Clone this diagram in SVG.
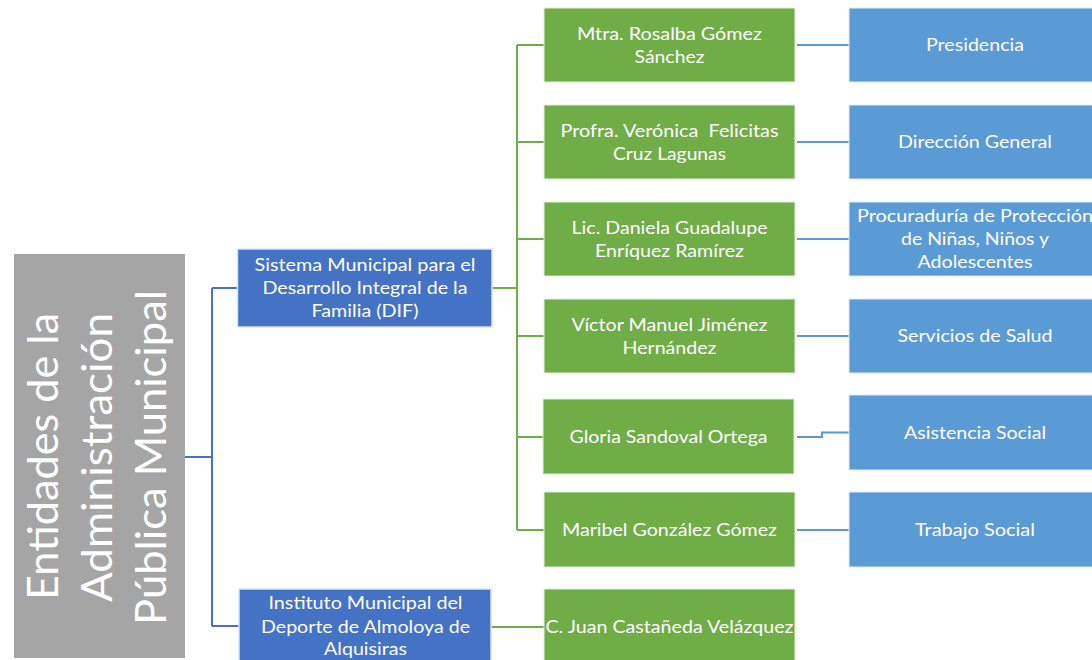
<svg xmlns="http://www.w3.org/2000/svg" width="1092" height="660" viewBox="0 0 1092 660">
<style>
text{font-family:Lato,"Open Sans","Liberation Sans",sans-serif;fill:#fff;text-anchor:middle}
.t{font-size:17.5px}
.big{font-size:42px;font-weight:400}
.gray{fill:#A5A5A5}
.dblue{fill:#4472C4;stroke:#DAE3F3;stroke-width:1.5}
.green{fill:#70AD47;stroke:#E2EFDA;stroke-width:1}
.lblue{fill:#5B9BD5;stroke:#DEEBF7;stroke-width:1}
.c1{fill:none;stroke:#4472C4;stroke-width:2}
.c2{fill:none;stroke:#70AD47;stroke-width:2}
.c3{fill:none;stroke:#5B9BD5;stroke-width:2}
</style>
<rect width="1092" height="660" fill="#fff"/>
<g id="connectors">
<path class="c1" d="M185,457 H212 M212,288 V626 M212,288 H238 M212,626 H239"/>
<path class="c2" d="M492,288 H517 M517,45 V530 M517,45 H544 M517,142 H544 M517,239 H544 M517,336 H544 M517,437 H543 M517,530 H544 M491,627 H544"/>
<path class="c3" d="M797,45 H849 M797,142 H849 M797,239 H849 M797,336 H849 M797,437 H822 V432.5 H849 M797,530 H849"/>
</g>
<g id="root">
<rect class="gray" x="14" y="254" width="171" height="404"/>
<text class="big" transform="rotate(-90)" x="-456.5" y="57.5" textLength="287" lengthAdjust="spacingAndGlyphs">Entidades de la</text>
<text class="big" transform="rotate(-90)" x="-457.5" y="111.5" textLength="289" lengthAdjust="spacingAndGlyphs">Administración</text>
<text class="big" transform="rotate(-90)" x="-457.5" y="166" textLength="335" lengthAdjust="spacingAndGlyphs">Pública Municipal</text>
</g>
<g id="dif">
<rect class="dblue" x="237.5" y="249" width="254.5" height="78"/>
<text class="t" x="365" y="271" textLength="221" lengthAdjust="spacingAndGlyphs">Sistema Municipal para el</text>
<text class="t" x="365" y="294" textLength="205" lengthAdjust="spacingAndGlyphs">Desarrollo Integral de la</text>
<text class="t" x="365" y="317" textLength="107" lengthAdjust="spacingAndGlyphs">Familia (DIF)</text>
</g>
<g id="deporte">
<rect class="dblue" x="239" y="589" width="252" height="76"/>
<text class="t" x="365.5" y="609" textLength="194" lengthAdjust="spacingAndGlyphs">Instituto Municipal del</text>
<text class="t" x="365.5" y="632.5" textLength="209" lengthAdjust="spacingAndGlyphs">Deporte de Almoloya de</text>
<text class="t" x="365.5" y="655" textLength="83" lengthAdjust="spacingAndGlyphs">Alquisiras</text>
</g>
<g id="p1">
<rect class="green" x="544" y="8" width="251" height="74"/>
<text class="t" x="669.5" y="40" textLength="185" lengthAdjust="spacingAndGlyphs">Mtra. Rosalba Gómez</text>
<text class="t" x="669.5" y="63" textLength="70" lengthAdjust="spacingAndGlyphs">Sánchez</text>
</g>
<g id="p2">
<rect class="green" x="544" y="105" width="251" height="74"/>
<text class="t" x="669.5" y="137" textLength="218" lengthAdjust="spacingAndGlyphs" xml:space="preserve">Profra. Verónica  Felicitas</text>
<text class="t" x="669.5" y="160" textLength="113" lengthAdjust="spacingAndGlyphs">Cruz Lagunas</text>
</g>
<g id="p3">
<rect class="green" x="544" y="202" width="251" height="74"/>
<text class="t" x="669.5" y="234" textLength="196" lengthAdjust="spacingAndGlyphs">Lic. Daniela Guadalupe</text>
<text class="t" x="669.5" y="257" textLength="149" lengthAdjust="spacingAndGlyphs">Enríquez Ramírez</text>
</g>
<g id="p4">
<rect class="green" x="544" y="299" width="251" height="74"/>
<text class="t" x="669.5" y="331" textLength="196" lengthAdjust="spacingAndGlyphs">Víctor Manuel Jiménez</text>
<text class="t" x="669.5" y="354" textLength="94" lengthAdjust="spacingAndGlyphs">Hernández</text>
</g>
<g id="p5">
<rect class="green" x="543" y="399" width="251" height="75"/>
<text class="t" x="668.5" y="443" textLength="198" lengthAdjust="spacingAndGlyphs">Gloria Sandoval Ortega</text>
</g>
<g id="p6">
<rect class="green" x="544" y="492" width="251" height="75"/>
<text class="t" x="669.5" y="536" textLength="215" lengthAdjust="spacingAndGlyphs">Maribel González Gómez</text>
</g>
<g id="p7">
<rect class="green" x="544" y="589" width="251" height="76"/>
<text class="t" x="669.5" y="633" textLength="248" lengthAdjust="spacingAndGlyphs">C. Juan Castañeda Velázquez</text>
</g>
<g id="r1">
<rect class="lblue" x="849" y="8" width="252" height="74"/>
<text class="t" x="975" y="51" textLength="98" lengthAdjust="spacingAndGlyphs">Presidencia</text>
</g>
<g id="r2">
<rect class="lblue" x="849" y="105" width="252" height="74"/>
<text class="t" x="975" y="148" textLength="154" lengthAdjust="spacingAndGlyphs">Dirección General</text>
</g>
<g id="r3">
<rect class="lblue" x="849" y="202" width="252" height="74"/>
<text class="t" x="975" y="222" textLength="236" lengthAdjust="spacingAndGlyphs">Procuraduría de Protección</text>
<text class="t" x="975" y="245" textLength="148" lengthAdjust="spacingAndGlyphs">de Niñas, Niños y</text>
<text class="t" x="975" y="268" textLength="115" lengthAdjust="spacingAndGlyphs">Adolescentes</text>
</g>
<g id="r4">
<rect class="lblue" x="849" y="299" width="252" height="74"/>
<text class="t" x="975" y="342" textLength="155" lengthAdjust="spacingAndGlyphs">Servicios de Salud</text>
</g>
<g id="r5">
<rect class="lblue" x="849" y="395" width="252" height="75"/>
<text class="t" x="975" y="439" textLength="142" lengthAdjust="spacingAndGlyphs">Asistencia Social</text>
</g>
<g id="r6">
<rect class="lblue" x="849" y="492" width="252" height="75"/>
<text class="t" x="975" y="536" textLength="120" lengthAdjust="spacingAndGlyphs">Trabajo Social</text>
</g>
</svg>
